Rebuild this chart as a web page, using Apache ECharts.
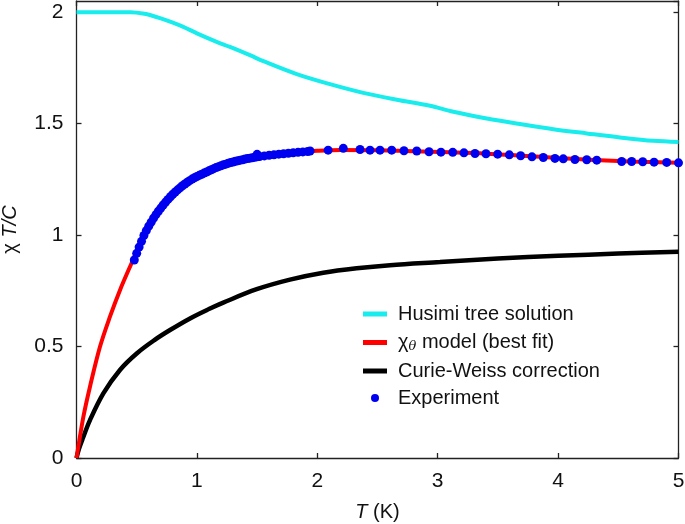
<!DOCTYPE html>
<html><head><meta charset="utf-8">
<script src="https://cdn.jsdelivr.net/npm/echarts@6/dist/echarts.min.js"></script>
<style>html,body{margin:0;padding:0;background:#fff}#c{width:685px;height:524px}</style>
</head><body><div id="c"></div>
<script>
// Husimi tree solution
const husimiT = [0, 0.3, 0.45, 0.55, 0.61, 0.7, 0.8, 0.887, 1.0, 1.164, 1.275, 1.44, 1.552, 1.829, 2.105, 2.382, 2.66, 2.936, 3.13, 3.407, 3.684, 3.96, 4.238, 4.514, 4.79, 5.0];
const husimiV = [2.0, 2.0, 1.999, 1.994, 1.987, 1.972, 1.953, 1.934, 1.905, 1.867, 1.844, 1.807, 1.78, 1.722, 1.677, 1.638, 1.607, 1.58, 1.553, 1.523, 1.498, 1.475, 1.456, 1.438, 1.423, 1.418];
// chi_theta model (best fit)
const modelT = [0, 0.015, 0.057, 0.112, 0.195, 0.278, 0.361, 0.458, 0.55, 0.65, 0.75, 0.9, 1.05, 1.2, 1.4, 1.6, 1.8, 2.0, 2.2, 2.5, 2.8, 3.1, 3.4, 3.7, 4.0, 4.3, 4.6, 5.0];
const modelV = [0, 0.05, 0.185, 0.32, 0.499, 0.634, 0.753, 0.875, 0.988, 1.087, 1.155, 1.227, 1.273, 1.311, 1.342, 1.36, 1.37, 1.378, 1.382, 1.381, 1.376, 1.371, 1.365, 1.356, 1.346, 1.337, 1.33, 1.324];
// Curie-Weiss correction
const cwT = [0, 0.02, 0.05, 0.112, 0.223, 0.361, 0.5, 0.65, 0.777, 0.943, 1.1, 1.219, 1.497, 1.773, 2.05, 2.327, 2.604, 3.019, 3.5, 4.0, 4.5, 5.0];
const cwV = [0, 0.04, 0.085, 0.17, 0.29, 0.395, 0.469, 0.53, 0.574, 0.626, 0.668, 0.697, 0.757, 0.8, 0.831, 0.851, 0.865, 0.879, 0.895, 0.907, 0.917, 0.925];
// Experiment
const expT = [0.48, 0.5, 0.52, 0.54, 0.56, 0.58, 0.6, 0.62, 0.64, 0.66, 0.68, 0.7, 0.72, 0.74, 0.76, 0.78, 0.8, 0.82, 0.84, 0.86, 0.88, 0.9, 0.92, 0.94, 0.96, 0.98, 1.0, 1.02, 1.04, 1.06, 1.08, 1.1, 1.12, 1.14, 1.16, 1.18, 1.2, 1.22, 1.24, 1.26, 1.28, 1.3, 1.32, 1.34, 1.36, 1.38, 1.4, 1.42, 1.44, 1.46, 1.48, 1.5, 1.5, 1.52, 1.56, 1.6, 1.64, 1.68, 1.72, 1.76, 1.8, 1.84, 1.88, 1.92, 1.94,
  2.09, 2.216, 2.355, 2.438, 2.521, 2.618, 2.72, 2.826, 2.928, 3.027, 3.125, 3.218, 3.31, 3.401, 3.498, 3.595, 3.689, 3.783, 3.877, 3.974, 4.043, 4.14, 4.238, 4.321, 4.528, 4.611, 4.703, 4.797, 4.902, 5.0];
const expV = [0.888, 0.918, 0.946, 0.972, 0.998, 1.02, 1.04, 1.058, 1.076, 1.092, 1.107, 1.121, 1.135, 1.148, 1.16, 1.172, 1.183, 1.193, 1.203, 1.212, 1.221, 1.229, 1.237, 1.244, 1.251, 1.257, 1.263, 1.268, 1.273, 1.278, 1.283, 1.288, 1.293, 1.298, 1.303, 1.307, 1.311, 1.315, 1.318, 1.322, 1.325, 1.328, 1.331, 1.333, 1.336, 1.338, 1.341, 1.343, 1.345, 1.347, 1.349, 1.351, 1.362, 1.352, 1.355, 1.358, 1.36, 1.363, 1.365, 1.367, 1.369, 1.371, 1.373, 1.375, 1.377,
  1.381, 1.389, 1.384, 1.381, 1.381, 1.381, 1.378, 1.377, 1.374, 1.372, 1.371, 1.369, 1.366, 1.365, 1.363, 1.36, 1.356, 1.351, 1.348, 1.344, 1.342, 1.339, 1.338, 1.336, 1.33, 1.33, 1.329, 1.327, 1.326, 1.324];
const xTicks = [0, 1, 2, 3, 4, 5];
const yTicks = [0, 0.5, 1, 1.5, 2];

const pairs = (a, b) => a.map((t, i) => [t, b[i]]);
const FONT = 'Liberation Sans';
const axisCol = '#222';
const chart = echarts.init(document.getElementById('c'), null, {renderer: 'canvas'});
const baseX = {
  type: 'value', min: 0, max: 5, interval: 1,
  axisLine: {show: true, onZero: false, lineStyle: {color: axisCol, width: 1.3}},
  axisTick: {show: true, inside: true, length: 5, lineStyle: {color: axisCol, width: 1.3}},
  splitLine: {show: false}
};
const baseY = {
  type: 'value', min: 0, max: 2.05, interval: 0.5,
  axisLine: {show: true, onZero: false, lineStyle: {color: axisCol, width: 1.3}},
  axisTick: {show: true, inside: true, length: 5, lineStyle: {color: axisCol, width: 1.3}},
  splitLine: {show: false}
};
chart.setOption({
  animation: false,
  backgroundColor: '#fff',
  grid: {left: 76.5, right: 6.5, top: 1, bottom: 66, containLabel: false, outerBoundsMode: 'none'},
  xAxis: [
    Object.assign({}, baseX, {position: 'bottom',
      axisLabel: {show: true, margin: 13, fontSize: 21, color: '#111', fontFamily: FONT,
        formatter: v => xTicks.includes(v) ? String(v) : ''},
      name: '{i|T} (K)', nameLocation: 'middle', nameGap: 44,
      nameTextStyle: {fontSize: 20, color: '#111', fontFamily: FONT,
        rich: {i: {fontSize: 20, fontStyle: 'italic', fontFamily: FONT, color: '#111'}}}}),
    Object.assign({}, baseX, {position: 'top', axisLabel: {show: false}})
  ],
  yAxis: [
    Object.assign({}, baseY, {position: 'left',
      axisLabel: {show: true, margin: 13, fontSize: 21, color: '#111', fontFamily: FONT, showMaxLabel: false,
        formatter: v => yTicks.includes(v) ? String(v) : ''},
      name: 'χ {i|T/C}', nameLocation: 'middle', nameGap: 56, nameRotate: 90,
      nameTextStyle: {fontSize: 20, color: '#111', fontFamily: FONT,
        rich: {i: {fontSize: 20, fontStyle: 'italic', fontFamily: FONT, color: '#111'}}}}),
    Object.assign({}, baseY, {position: 'right', axisLabel: {show: false}})
  ],
  legend: [
    {
      left: 363, top: 304, padding: 0, orient: 'vertical', itemWidth: 24, itemHeight: 5, itemGap: 7.5,
      icon: 'rect',
      data: ['Husimi tree solution', 'χθ model (best fit)', 'Curie-Weiss correction'],
      formatter: n => n === 'χθ model (best fit)' ? 'χ{s|θ} model (best fit)' : n,
      textStyle: {fontSize: 20, lineHeight: 20, color: '#111', fontFamily: FONT, padding: [0, 0, 0, 6],
        rich: {s: {fontSize: 13, fontStyle: 'italic', fontFamily: 'DejaVu Serif', color: '#111', padding: [9, 0, 0, 0], lineHeight: 20}}}
    },
    {
      left: 371, top: 388, padding: 0, orient: 'vertical', itemWidth: 24, itemHeight: 8,
      icon: 'circle',
      data: ['Experiment'],
      textStyle: {fontSize: 20, lineHeight: 20, color: '#111', fontFamily: FONT, padding: [0, 0, 0, 6]}
    }
  ],
  series: [
    {name: 'Husimi tree solution', type: 'line', data: pairs(husimiT, husimiV), smooth: 0.35,
      showSymbol: false, lineStyle: {color: '#19ECEC', width: 4}, itemStyle: {color: '#19ECEC'}, z: 2},
    {name: 'Curie-Weiss correction', type: 'line', data: pairs(cwT, cwV), smooth: 0.35,
      showSymbol: false, lineStyle: {color: '#000', width: 4.5}, itemStyle: {color: '#000'}, z: 2},
    {name: 'χθ model (best fit)', type: 'line', data: pairs(modelT, modelV), smooth: 0.35,
      showSymbol: false, lineStyle: {color: '#FF0000', width: 4}, itemStyle: {color: '#FF0000'}, z: 3},
    {name: 'Experiment', type: 'scatter', data: pairs(expT, expV), symbol: 'circle', symbolSize: 9, clip: false,
      itemStyle: {color: '#0000F0', opacity: 1}, z: 4}
  ]
});
</script></body></html>
